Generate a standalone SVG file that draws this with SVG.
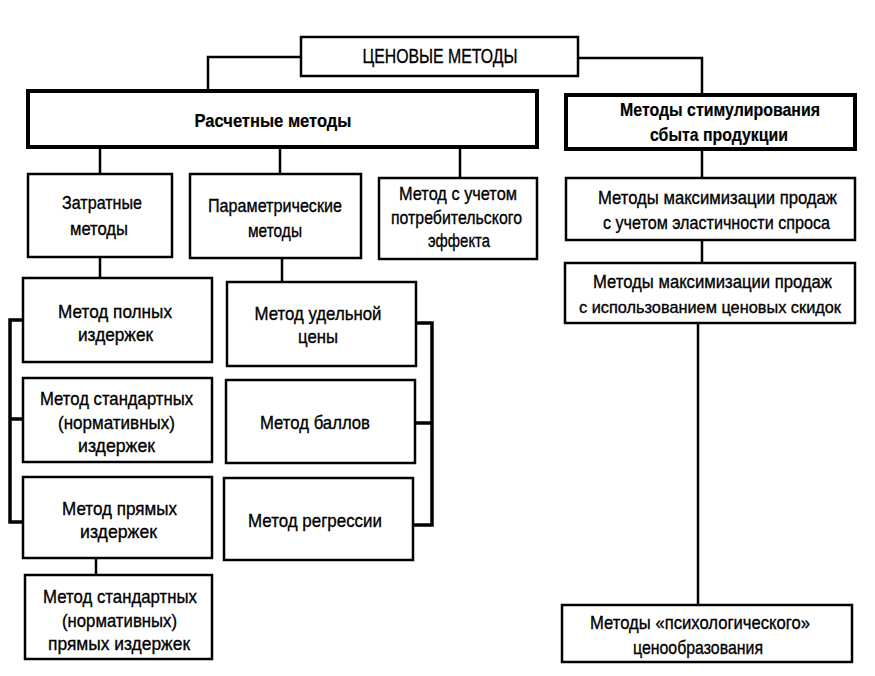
<svg xmlns="http://www.w3.org/2000/svg" width="875" height="676" viewBox="0 0 875 676">
<style>
  .box{fill:#fff;stroke:#000;stroke-width:2.5}
  .thick{stroke-width:4}
  .conn{fill:none;stroke:#000;stroke-width:2.5}
  .br{stroke-width:3.5}
  text{font-family:"Liberation Sans",Arial,sans-serif;font-size:19px;text-anchor:middle;fill:#000;stroke:#000;stroke-width:0.35}
  .b{font-weight:bold;font-size:18.5px;stroke-width:0.2}
  .t{font-size:21px}
  .s{font-size:17px}
</style>
<rect width="875" height="676" fill="#fff"/>
<g id="connectors">
  <path class="conn" d="M301,57 H208 V91"/>
  <path class="conn" d="M578,58 H702 V95"/>
  <path class="conn" d="M100,147 V174 M280,147 V174 M460,147 V178"/>
  <path class="conn" d="M702,149 V178 M702,240 V263 M698,323 V605"/>
  <path class="conn" d="M100,257 V278 M282,258 V282 M96,558 V575"/>
  <path class="conn br" d="M23,320 H10 V522 H23 M10,419 H23"/>
  <path class="conn br" d="M416,323 H432 V525 H413 M415,423 H432"/>
</g>
<g id="n-root"><rect class="box" x="301" y="37" width="277" height="39"/><text class="t" x="440" y="63" textLength="155" lengthAdjust="spacingAndGlyphs">ЦЕНОВЫЕ МЕТОДЫ</text></g>
<g id="n-rasch"><rect class="box thick" x="28" y="91" width="509" height="56"/><text class="b" x="273" y="127" textLength="157" lengthAdjust="spacingAndGlyphs">Расчетные методы</text></g>
<g id="n-stim"><rect class="box thick" x="566" y="95" width="289" height="54"/><text class="b" x="720" y="116" textLength="200" lengthAdjust="spacingAndGlyphs">Методы стимулирования</text><text class="b" x="719" y="141" textLength="138" lengthAdjust="spacingAndGlyphs">сбыта продукции</text></g>
<g id="n-zatr"><rect class="box" x="28" y="174" width="144" height="83"/><text x="102" y="209" textLength="80" lengthAdjust="spacingAndGlyphs">Затратные</text><text x="99" y="235" textLength="58" lengthAdjust="spacingAndGlyphs">методы</text></g>
<g id="n-param"><rect class="box" x="190" y="174" width="171" height="84"/><text x="275" y="212" textLength="134" lengthAdjust="spacingAndGlyphs">Параметрические</text><text x="275" y="237" textLength="54" lengthAdjust="spacingAndGlyphs">методы</text></g>
<g id="n-potreb"><rect class="box" x="379" y="178" width="158" height="81"/><text x="458" y="200" textLength="118" lengthAdjust="spacingAndGlyphs">Метод с учетом</text><text x="456.5" y="223.5" textLength="131" lengthAdjust="spacingAndGlyphs">потребительского</text><text x="459" y="247" textLength="62" lengthAdjust="spacingAndGlyphs">эффекта</text></g>
<g id="n-max1"><rect class="box" x="566" y="178" width="289" height="62"/><text x="717.5" y="204" textLength="239" lengthAdjust="spacingAndGlyphs">Методы максимизации продаж</text><text x="716.5" y="229" textLength="227" lengthAdjust="spacingAndGlyphs">с учетом эластичности спроса</text></g>
<g id="n-max2"><rect class="box" x="565" y="263" width="290" height="60"/><text x="712.5" y="288" textLength="239" lengthAdjust="spacingAndGlyphs">Методы максимизации продаж</text><text class="s" x="710" y="313" textLength="262" lengthAdjust="spacingAndGlyphs">с использованием ценовых скидок</text></g>
<g id="n-psych"><rect class="box" x="562" y="605" width="290" height="57"/><text x="700" y="629" textLength="220" lengthAdjust="spacingAndGlyphs">Методы «психологического»</text><text x="698" y="654" textLength="130" lengthAdjust="spacingAndGlyphs">ценообразования</text></g>
<g id="n-poln"><rect class="box" x="23" y="278" width="189" height="84"/><text x="115" y="318" textLength="114" lengthAdjust="spacingAndGlyphs">Метод полных</text><text x="115.5" y="341" textLength="75" lengthAdjust="spacingAndGlyphs">издержек</text></g>
<g id="n-stand"><rect class="box" x="23" y="378" width="189" height="84"/><text x="116.5" y="405" textLength="153" lengthAdjust="spacingAndGlyphs">Метод стандартных</text><text x="116.5" y="428.5" textLength="117" lengthAdjust="spacingAndGlyphs">(нормативных)</text><text x="116.5" y="452" textLength="77" lengthAdjust="spacingAndGlyphs">издержек</text></g>
<g id="n-pryam"><rect class="box" x="23" y="477" width="189" height="81"/><text x="119.5" y="515" textLength="115" lengthAdjust="spacingAndGlyphs">Метод прямых</text><text x="118.5" y="538" textLength="77" lengthAdjust="spacingAndGlyphs">издержек</text></g>
<g id="n-standpr"><rect class="box" x="25" y="575" width="187" height="84"/><text x="120" y="603" textLength="154" lengthAdjust="spacingAndGlyphs">Метод стандартных</text><text x="119.5" y="626.5" textLength="115" lengthAdjust="spacingAndGlyphs">(нормативных)</text><text x="119" y="650" textLength="142" lengthAdjust="spacingAndGlyphs">прямых издержек</text></g>
<g id="n-udel"><rect class="box" x="227" y="282" width="189" height="84"/><text x="318" y="320" textLength="127" lengthAdjust="spacingAndGlyphs">Метод удельной</text><text x="318" y="343" textLength="40" lengthAdjust="spacingAndGlyphs">цены</text></g>
<g id="n-ball"><rect class="box" x="226" y="380" width="189" height="83"/><text x="315" y="429" textLength="110" lengthAdjust="spacingAndGlyphs">Метод баллов</text></g>
<g id="n-regr"><rect class="box" x="224" y="478" width="189" height="82"/><text x="315" y="527" textLength="134" lengthAdjust="spacingAndGlyphs">Метод регрессии</text></g>
</svg>
